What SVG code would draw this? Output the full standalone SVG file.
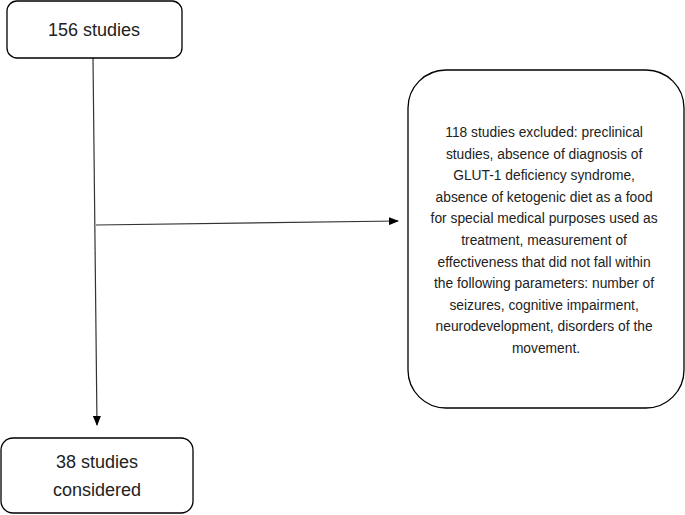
<svg xmlns="http://www.w3.org/2000/svg" width="685" height="515" viewBox="0 0 685 515">
<style>
.box{fill:#fff;stroke:#000;stroke-width:1.3}
.t{font-family:"Liberation Sans",Arial,sans-serif;fill:#222;text-anchor:middle}
.big{font-size:18px}
.small{font-size:13.8px}
.c{stroke:#333;stroke-width:1.2;fill:none}
</style>
<defs>
<marker id="ah" markerWidth="10" markerHeight="8" refX="9" refY="4" orient="auto" markerUnits="userSpaceOnUse">
<path d="M0,0 L10,4 L0,8 Z" fill="#000"/>
</marker>
</defs>
<rect width="685" height="515" fill="#fff"/>
<g id="connectors">
<line class="c" x1="93" y1="58" x2="97" y2="425" marker-end="url(#ah)"/>
<line class="c" x1="96" y1="225" x2="398" y2="221" marker-end="url(#ah)"/>
</g>
<g id="n1">
<rect class="box" x="7" y="1" width="175" height="57" rx="10"/>
<text class="t big" x="94" y="36">156 studies</text>
</g>
<g id="n2">
<rect class="box" x="1" y="438" width="192" height="75" rx="12"/>
<text class="t big" x="97" y="468">38 studies</text>
<text class="t big" x="97" y="496">considered</text>
</g>
<g id="n3">
<rect class="box" x="408" y="70" width="276" height="338" rx="38"/>
<text class="t small">
<tspan x="546" y="137">118 studies excluded: preclinical</tspan>
<tspan x="546" y="158.6">studies, absence of diagnosis of</tspan>
<tspan x="546" y="180.2">GLUT-1 deficiency syndrome,</tspan>
<tspan x="546" y="201.8">absence of ketogenic diet as a food</tspan>
<tspan x="546" y="223.4">for special medical purposes used as</tspan>
<tspan x="546" y="245">treatment, measurement of</tspan>
<tspan x="546" y="266.6">effectiveness that did not fall within</tspan>
<tspan x="546" y="288.2">the following parameters: number of</tspan>
<tspan x="546" y="309.8">seizures, cognitive impairment,</tspan>
<tspan x="546" y="331.4">neurodevelopment, disorders of the</tspan>
<tspan x="546" y="353">movement.</tspan>
</text>
</g>
</svg>
